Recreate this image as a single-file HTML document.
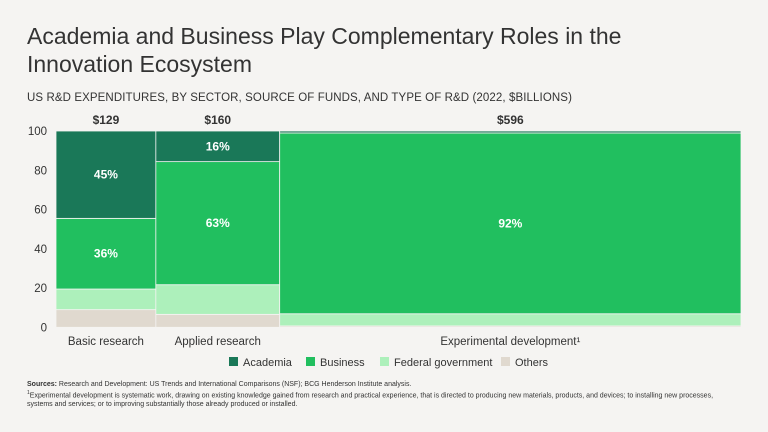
<!DOCTYPE html>
<html><head><meta charset="utf-8"><style>
body{margin:0;background:#f5f4f2;font-family:"Liberation Sans",sans-serif;}
#wrap{position:relative;width:768px;height:432px;overflow:hidden;background:#f5f4f2;}
.t{position:absolute;color:#222;}
</style></head><body>
<div id="wrap">
<div class="t" style="left:27px;top:22px;font-size:23px;line-height:28px;color:#333;font-weight:300;width:700px">Academia and Business Play Complementary Roles in the Innovation Ecosystem</div>
<div class="t" style="left:27px;top:92px;font-size:11.5px;letter-spacing:0.1px;color:#333">US R&amp;D EXPENDITURES, BY SECTOR, SOURCE OF FUNDS, AND TYPE OF R&amp;D (2022, $BILLIONS)</div>
<svg id="chart" width="768" height="432" style="position:absolute;left:0;top:0"></svg>
<div class="t" style="left:27px;top:380px;font-size:7px;line-height:9px;width:712px;color:#333"><b>Sources:</b> Research and Development: US Trends and International Comparisons (NSF); BCG Henderson Institute analysis.<br><sup style="font-size:5px">1</sup>Experimental development is systematic work, drawing on existing knowledge gained from research and practical experience, that is directed to producing new materials, products, and devices; to installing new processes, systems and services; or to improving substantially those already produced or installed.</div>
</div>
<script>
const categories=["Basic research","Applied research","Experimental development"];
const totals=[129,160,596];
const others=[9,6.6,0.7];
const federal=[10.5,15.1,6.2];
const business=[36,62.7,92.1];
const academia=[44.5,15.6,1];
const yTicks=[0,20,40,60,80,100];
const series=[
 {name:"Others",vals:others,color:"#e0d9cf",label:false},
 {name:"Federal government",vals:federal,color:"#adf0bb",label:false},
 {name:"Business",vals:business,color:"#21bf5f",label:true},
 {name:"Academia",vals:academia,color:"#1a7858",label:true}
];
const NS="http://www.w3.org/2000/svg";
const svg=document.getElementById('chart');
const X0=56,X1=741,Y0=327.3,Y1=131;
const sumT=totals.reduce((a,b)=>a+b,0);
const xs=v=>X0+(v/sumT)*(X1-X0);
const ys=v=>Y0-(v/100)*(Y0-Y1);
function mk(tag,at){const e=document.createElementNS(NS,tag);for(const k in at)e.setAttribute(k,at[k]);svg.appendChild(e);return e;}
yTicks.forEach(t=>{const e=mk('text',{x:47,y:ys(t)+4,'text-anchor':'end','font-size':11.5,fill:'#333'});e.textContent=t;

});
let cum=0;
categories.forEach((c,i)=>{
 const xa=xs(cum),xb=xs(cum+totals[i]);cum+=totals[i];
 let base=0;
 series.forEach(s=>{
  const v=s.vals[i];
  const r=mk('rect',{x:xa,y:ys(base+v),width:xb-xa,height:ys(base)-ys(base+v),fill:s.color,stroke:'#f5f4f2','stroke-width':0.8});
  
  
  if(s.label&&v>10){const t=mk('text',{x:(xa+xb)/2,y:ys(base+v/2)+4,'text-anchor':'middle','font-size':12,'font-weight':'bold',fill:'#fff'});t.textContent=Math.round(v)+'%';
  
  }
  base+=v;
 });
 const tt=mk('text',{x:(xa+xb)/2,y:124,'text-anchor':'middle','font-size':12,'font-weight':'bold',fill:'#333'});tt.textContent='$'+totals[i];
 
 
 const cl=mk('text',{x:(xa+xb)/2,y:345,'text-anchor':'middle','font-size':11.5,fill:'#333'});cl.textContent=c+(i==2?'¹':'');
 
 
});
const leg=[["Academia","#1a7858",229],["Business","#21bf5f",306],["Federal government","#adf0bb",380],["Others","#e0d9cf",501]];
leg.forEach(l=>{
 const g=document.createElementNS(NS,'g');svg.appendChild(g);
 
 
 const r=document.createElementNS(NS,'rect');r.setAttribute('x',l[2]);r.setAttribute('y',357);r.setAttribute('width',9);r.setAttribute('height',9);r.setAttribute('fill',l[1]);g.appendChild(r);
 const t=document.createElementNS(NS,'text');t.setAttribute('x',l[2]+14);t.setAttribute('y',366);t.setAttribute('font-size',11);t.setAttribute('fill','#333');t.textContent=l[0];g.appendChild(t);
});
</script>
</body></html>
